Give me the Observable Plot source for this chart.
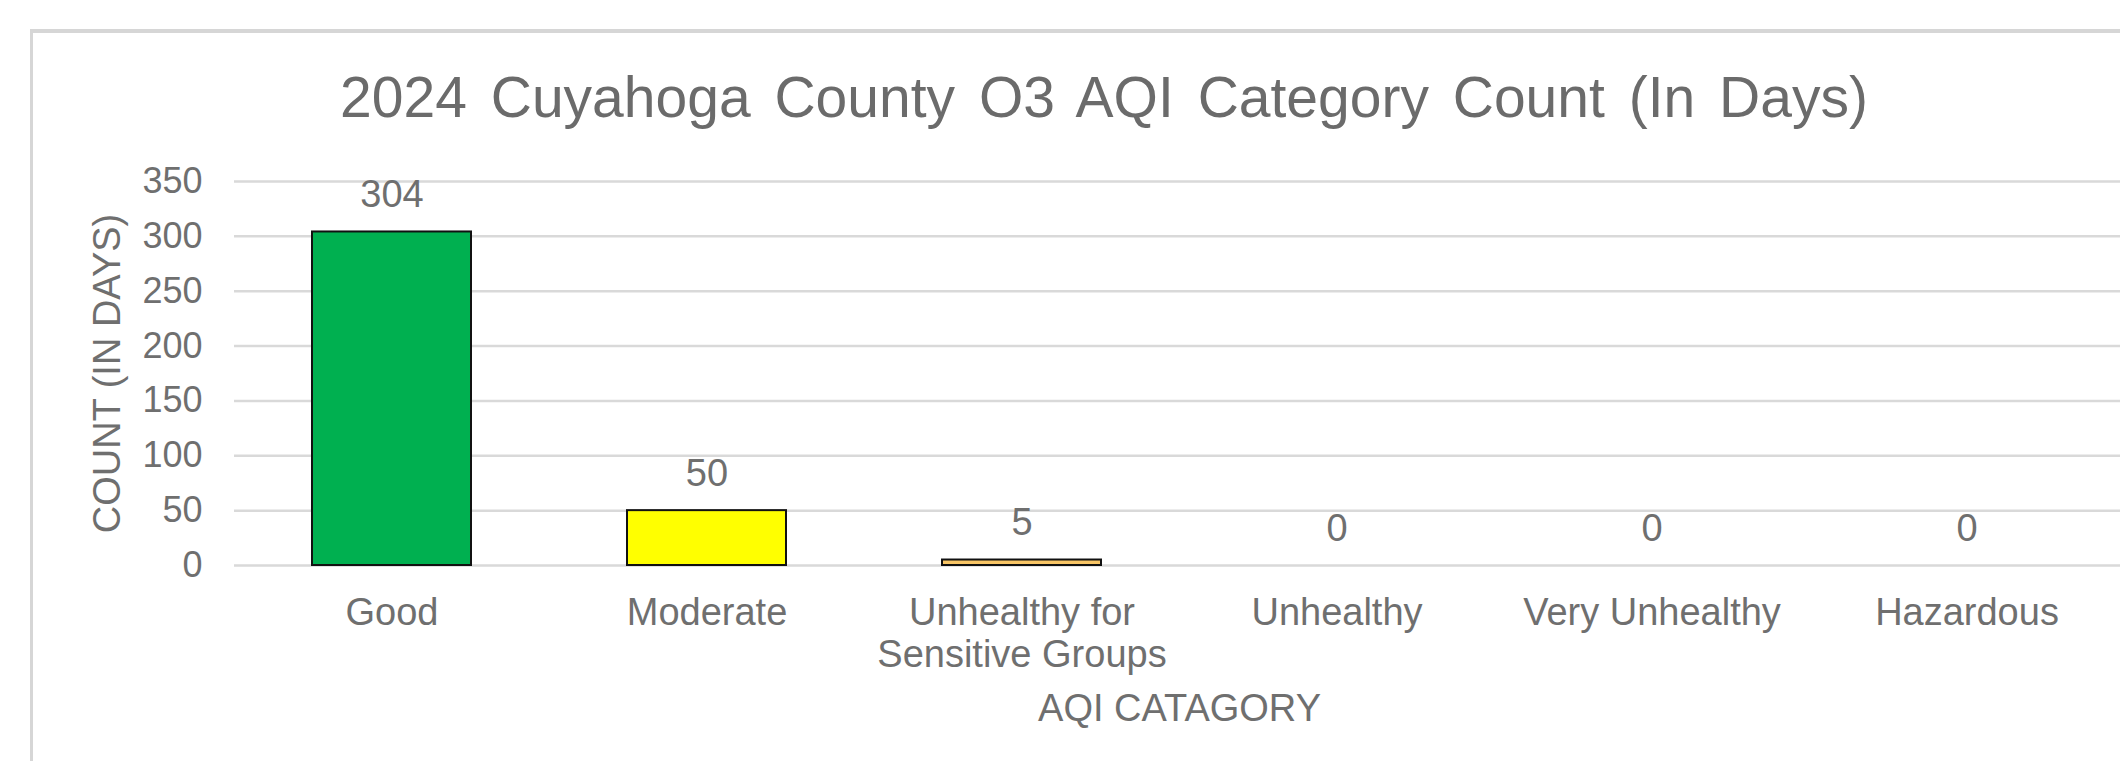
<!DOCTYPE html>
<html>
<head>
<meta charset="utf-8">
<script src="https://cdn.jsdelivr.net/npm/d3@7"></script>
<script src="https://cdn.jsdelivr.net/npm/@observablehq/plot@0.6"></script>
<style>
  html, body { margin: 0; padding: 0; background: #ffffff; }
  #wrap { position: relative; width: 2120px; height: 761px; overflow: hidden; font-family: "Liberation Sans", Arial, sans-serif; }
  #frame { position: absolute; left: 30px; top: 29px; right: -10px; bottom: -10px; border-left: 3px solid #d6d6d6; border-top: 4px solid #d6d6d6; pointer-events: none; }
  #title { position: relative; height: 130px; box-sizing: border-box; padding-top: 69px; padding-left: 88px; width: 2120px; text-align: center; font-size: 57px; line-height: 57px; word-spacing: 8px; color: #6b6b6b; white-space: nowrap; }
  #chart { position: relative; }
  #chart svg { display: block; }
</style>
</head>
<body>
<div id="wrap">
  <div id="frame"></div>
  <div id="title">2024 Cuyahoga County O3 AQI Category Count (In Days)</div>
  <div id="chart"></div>
</div>
<script>
const categories = ["Good", "Moderate", "Unhealthy for\nSensitive Groups", "Unhealthy", "Very Unhealthy", "Hazardous"];
const counts = [304, 50, 5, 0, 0, 0];
const barColors = ["#00B050", "#FFFF00", "#F8C565", "#FF0000", "#7030A0", "#7E0023"];
const yTicks = [0, 50, 100, 150, 200, 250, 300, 350];
const xTitle = "AQI CATAGORY";
const yTitle = "COUNT (IN DAYS)";

const data = categories.map((c, i) => ({category: c, count: counts[i], color: barColors[i]}));
const textColor = "#6f6f6f";

const chart = Plot.plot({
  width: 2120,
  height: 631,
  marginLeft: 234,
  marginRight: -4,
  marginTop: 51,
  marginBottom: 196,
  style: {fontFamily: "'Liberation Sans', Arial, sans-serif", fontSize: "36px", color: textColor, background: "transparent", overflow: "visible"},
  x: {domain: categories, paddingInner: 0.495, paddingOuter: 0.2475, align: 0.5, label: null},
  y: {domain: [0, 350], label: null},
  marks: [
    Plot.gridY(yTicks, {stroke: "#d9d9d9", strokeOpacity: 1, strokeWidth: 2.5}),
    Plot.barY(data, {x: "category", y: "count", fill: "color", stroke: "#111111", strokeWidth: 2}),
    Plot.axisY({ticks: yTicks, tickSize: 0, tickPadding: 32, fontSize: 36, fill: textColor, label: null}),
    Plot.axisX({tickSize: 0, tickPadding: 29, fontSize: 38, fill: textColor, lineHeight: 1.12, label: null}),
    Plot.text(data, {x: "category", y: "count", text: d => String(d.count), dy: -37, lineAnchor: "middle", fontSize: 38, fill: textColor}),
    Plot.text([xTitle], {frameAnchor: "bottom", dy: 143, lineAnchor: "middle", textAnchor: "middle", text: d => d, fontSize: 38, fill: textColor}),
    Plot.text([yTitle], {frameAnchor: "left", dx: -127, rotate: -90, lineAnchor: "middle", textAnchor: "middle", text: d => d, fontSize: 38, fill: textColor})
  ]
});
document.getElementById("chart").appendChild(chart);
</script>
</body>
</html>
